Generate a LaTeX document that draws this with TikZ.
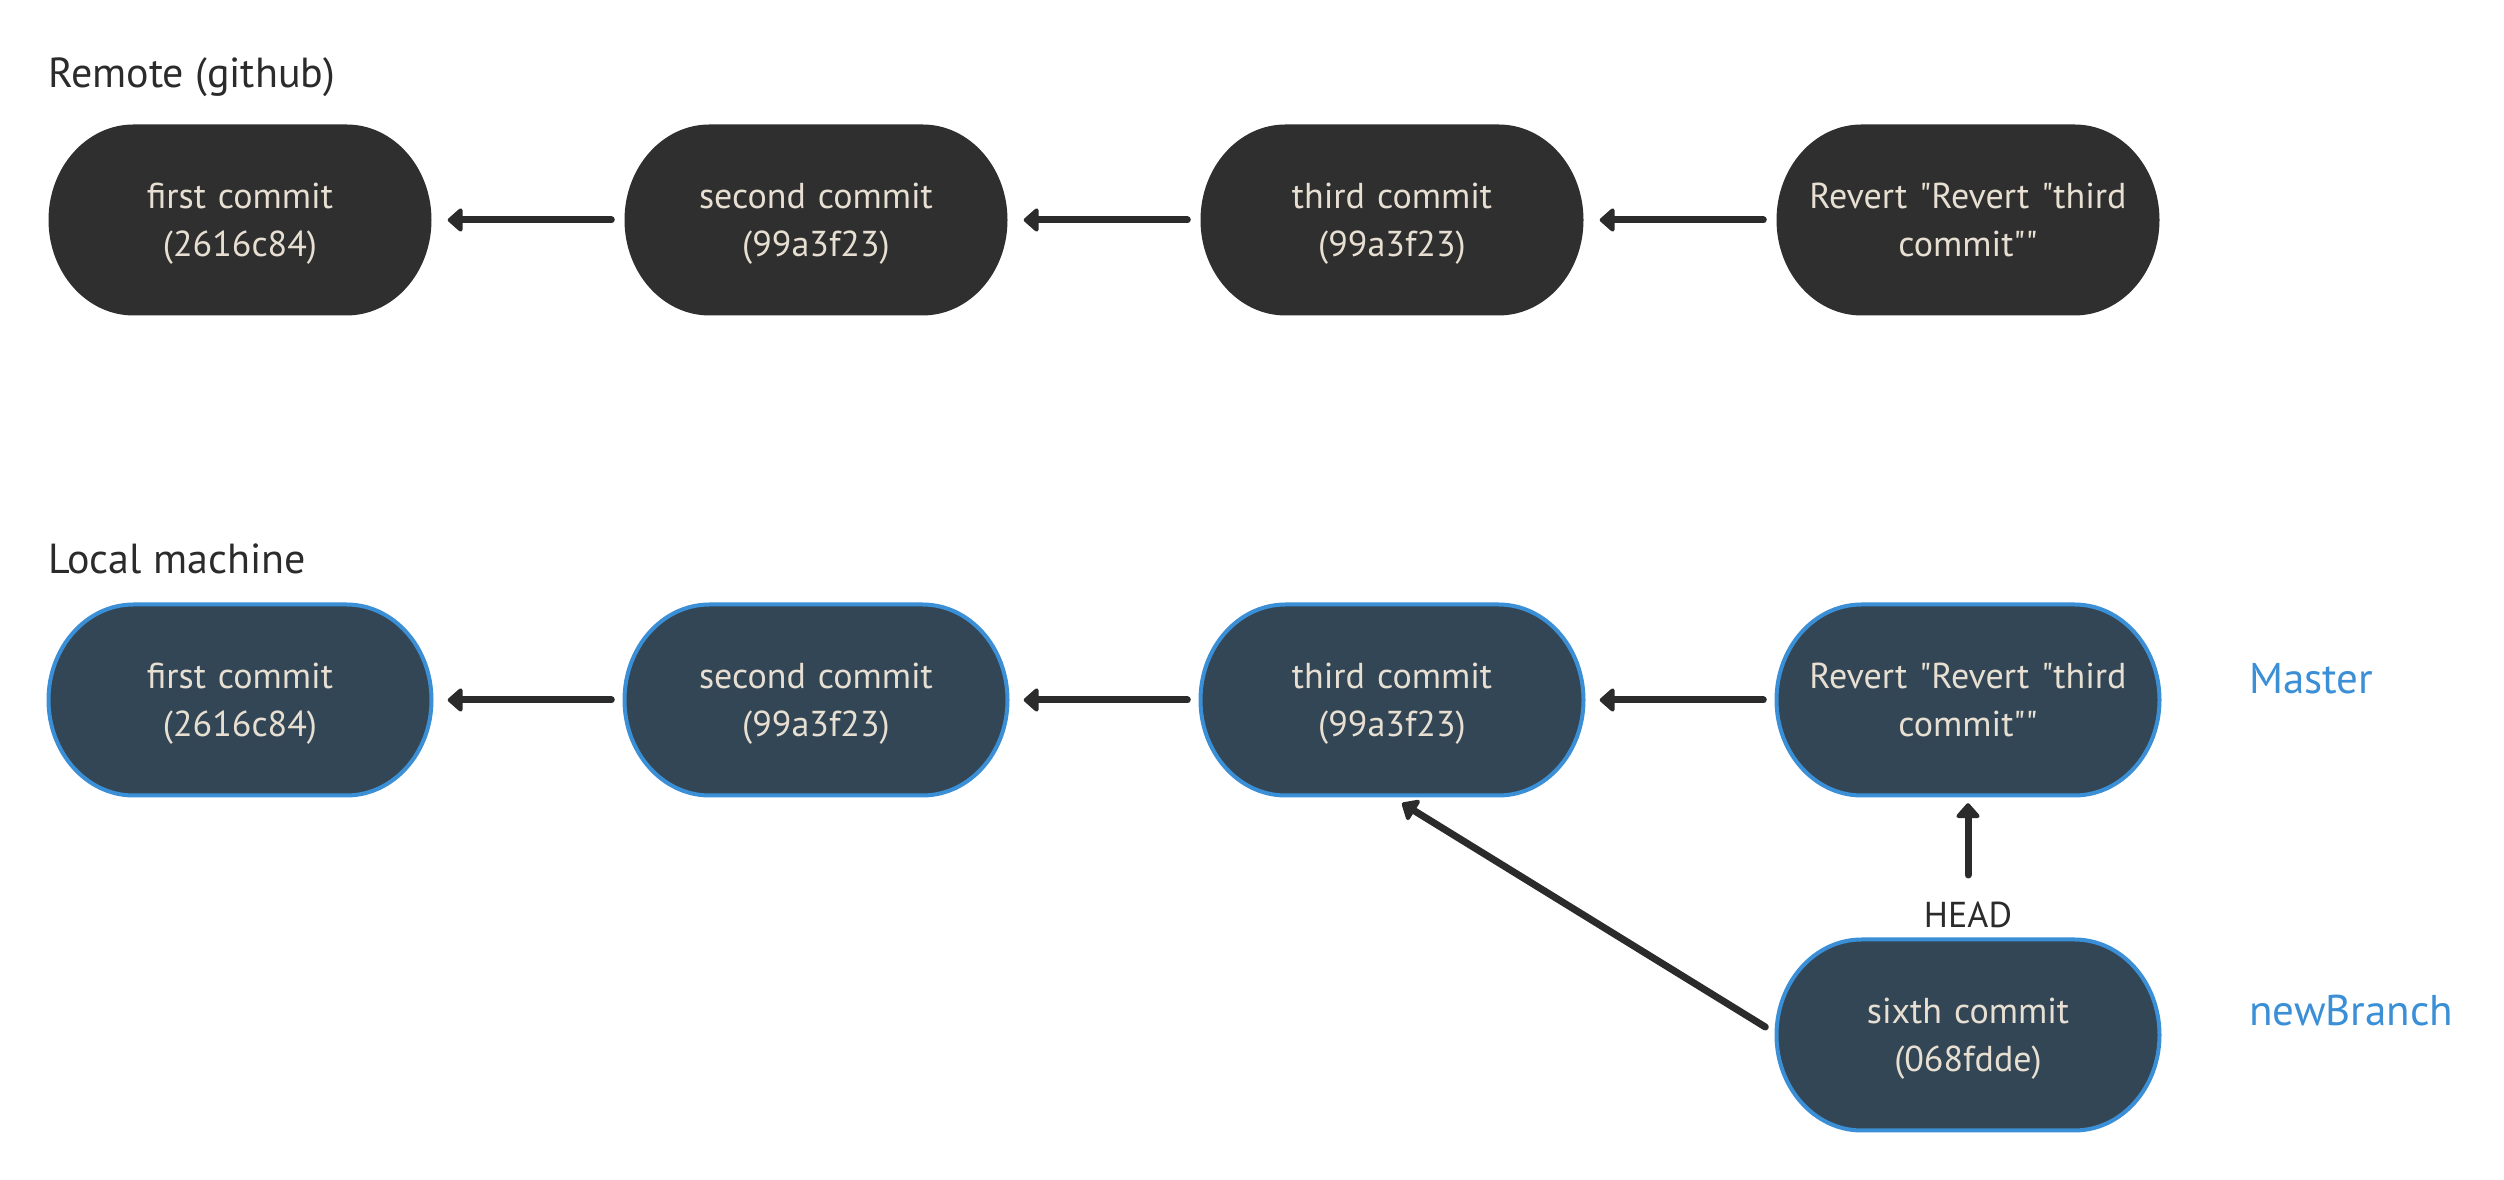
\documentclass[tikz,border=0pt]{standalone}
\usepackage{fontspec}
\setmainfont{PT Sans}[Ligatures=TeXOff]
\usetikzlibrary{arrows.meta}
\definecolor{remotefill}{HTML}{2F2F2F}
\definecolor{localfill}{HTML}{334655}
\definecolor{localedge}{HTML}{3A8FD6}
\definecolor{nodetext}{HTML}{E8DFD3}
\definecolor{ink}{HTML}{2B2B2B}
\definecolor{branch}{HTML}{3A8FD6}
\newcommand\commitnode[5]{%
  \path[#4] (#2-106.5,#3+95.5) -- (#2+106.5,#3+95.5)
    arc[start angle=90,end angle=-90,x radius=85,y radius=95.5]
    -- (#2-106.5,#3-95.5)
    arc[start angle=270,end angle=90,x radius=85,y radius=95.5] -- cycle;
  \node[commit] (#1) at (#2,#3) {};
  \node[committext] (#1-text) at ([yshift=-3pt]#1.center) {\strut #5\strut};
}
\begin{document}
\begin{tikzpicture}[x=1pt,y=1pt,
  commit/.style={rectangle,minimum width=383pt,minimum height=191pt,inner sep=0pt},
  committext/.style={inner sep=0pt,text width=370pt,align=center,text=nodetext,
    font=\fontsize{36}{48}\selectfont},
  remoteshape/.style={fill=remotefill},
  localshape/.style={fill=localfill,draw=localedge,line width=4pt},
  arr/.style={draw=ink,line width=7pt,line cap=round,
    -{Triangle[length=16pt,width=27pt,round]}},
  title/.style={anchor=west,text=ink,inner sep=0pt,font=\fontsize{42}{46}\selectfont},
  branchlabel/.style={anchor=west,text=branch,inner sep=0pt,font=\fontsize{43}{47}\selectfont},
  headlabel/.style={text=ink,inner sep=0pt,font=\fontsize{36}{40}\selectfont}]
\useasboundingbox[fill=white] (0,0) rectangle (2504,1180);
% titles
\node[title] (remote) at (48,1103) {Remote (github)};
\node[title] (local) at (48,621) {Local machine};
% remote row
\commitnode{r1}{240}{960}{remoteshape}{first commit\\(2616c84)}
\commitnode{r2}{816}{960}{remoteshape}{second commit\\(99a3f23)}
\commitnode{r3}{1392}{960}{remoteshape}{third commit\\(99a3f23)}
\commitnode{r4}{1968}{960}{remoteshape}{Revert "Revert "third\\commit""}
% local row
\commitnode{l1}{240}{480}{localshape}{first commit\\(2616c84)}
\commitnode{l2}{816}{480}{localshape}{second commit\\(99a3f23)}
\commitnode{l3}{1392}{480}{localshape}{third commit\\(99a3f23)}
\commitnode{l4}{1968}{480}{localshape}{Revert "Revert "third\\commit""}
\commitnode{s6}{1968}{145}{localshape}{sixth commit\\(068fdde)}
% labels
\node[branchlabel] (master) at (2249,501) {Master};
\node[branchlabel] (newbranch) at (2249,169) {newBranch};
\node[headlabel] (head) at (1968,265) {HEAD};
% arrows
\foreach \a/\b in {r2/r1,r3/r2,r4/r3,l2/l1,l3/l2,l4/l3}
  \draw[arr,shorten <=13pt,shorten >=16pt] (\a.west) -- (\b.east);
\draw[arr,shorten >=7.5pt] ([yshift=40pt]head.center) -- (l4.south);
\draw[arr] ([xshift=-11pt,yshift=8pt]s6.west) -- ([xshift=10pt,yshift=-7.5pt]l3.south);
\end{tikzpicture}
\end{document}
